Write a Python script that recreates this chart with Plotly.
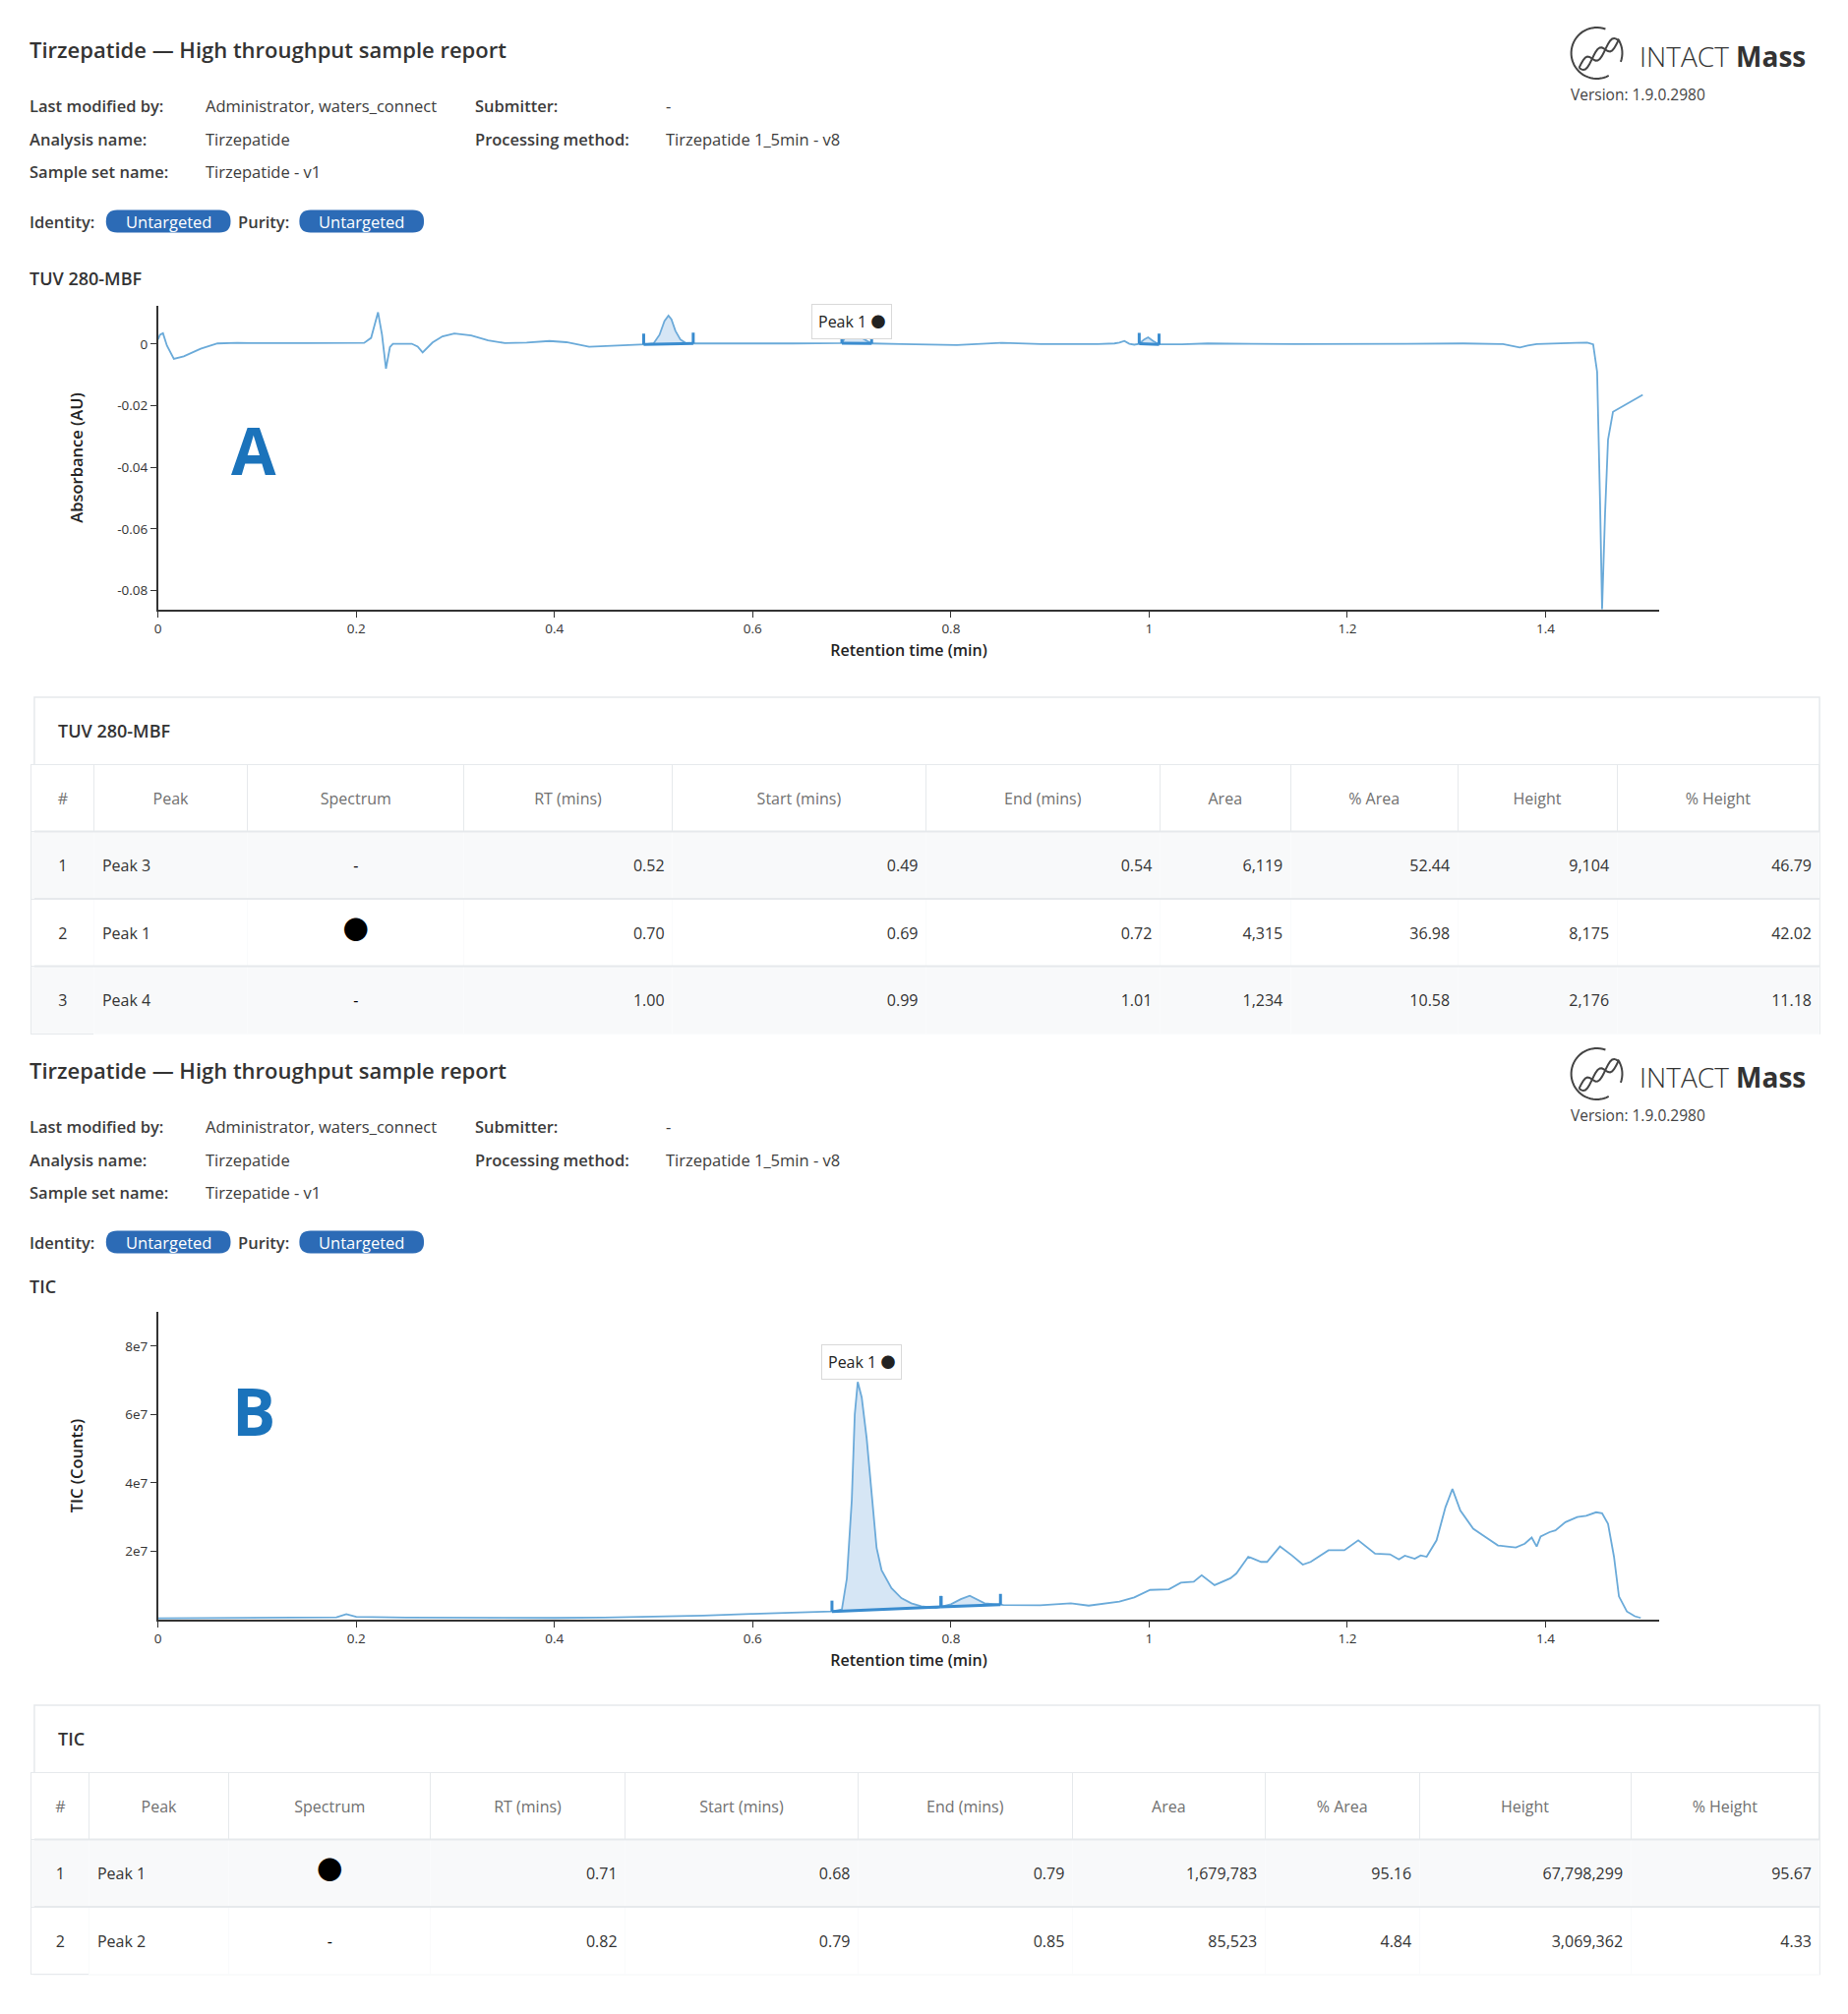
import numpy as np
import plotly.graph_objects as go

W, H = 1879, 2048
def px(x): return x / W
def py(y): return 1 - y / H

# ---------------- data ----------------
report_title = "Tirzepatide \u2014 High throughput sample report"
meta_labels_left = ["Last modified by:", "Analysis name:", "Sample set name:"]
meta_values_left = ["Administrator, waters_connect", "Tirzepatide", "Tirzepatide - v1"]
meta_labels_right = ["Submitter:", "Processing method:"]
meta_values_right = ["-", "Tirzepatide 1_5min - v8"]
version_text = "Version: 1.9.0.2980"

x_tickvals = [0, 0.2, 0.4, 0.6, 0.8, 1.0, 1.2, 1.4]
x_ticktext = ["0", "0.2", "0.4", "0.6", "0.8", "1", "1.2", "1.4"]
yA_tickvals = [0, -0.02, -0.04, -0.06, -0.08]
yA_ticktext = ["0", "-0.02", "-0.04", "-0.06", "-0.08"]
yB_tickvals = [2e7, 4e7, 6e7, 8e7]
yB_ticktext = ["2e7", "4e7", "6e7", "8e7"]

# TUV 280-MBF chromatogram (min, AU)
A_rt = [0.000, 0.002, 0.005, 0.009, 0.016, 0.026, 0.043, 0.060, 0.080, 0.100, 0.150, 0.200, 0.208, 0.215,
        0.219, 0.222, 0.226, 0.230, 0.234, 0.237, 0.256, 0.262, 0.267, 0.272, 0.277, 0.287, 0.299, 0.316,
        0.333, 0.350, 0.372, 0.395, 0.412, 0.435, 0.458, 0.492, 0.500, 0.506, 0.511, 0.515, 0.518, 0.522,
        0.527, 0.532, 0.540, 0.583, 0.640, 0.690, 0.695, 0.700, 0.705, 0.710, 0.720, 0.750, 0.806, 0.852,
        0.891, 0.948, 0.965, 0.970, 0.975, 0.980, 0.985, 0.990, 0.995, 0.999, 1.004, 1.010, 1.033, 1.059,
        1.147, 1.260, 1.317, 1.357, 1.366, 1.374, 1.382, 1.391, 1.431, 1.442, 1.448, 1.452, 1.455, 1.457,
        1.460, 1.463, 1.468, 1.482, 1.498]
A_abs = [0.0015, 0.0030, 0.0035, -0.0005, -0.0048, -0.0040, -0.0015, 0.0002, 0.0004, 0.0003, 0.0003, 0.0004,
         0.0004, 0.0020, 0.0070, 0.0103, 0.0030, -0.0080, -0.0010, 0.0001, 0.0001, -0.0008, -0.0027, -0.0012,
         0.0005, 0.0025, 0.0034, 0.0028, 0.0012, 0.0003, 0.0005, 0.0010, 0.0006, -0.0009, -0.0006, -0.0001,
         0.0002, 0.0030, 0.0075, 0.0092, 0.0080, 0.0043, 0.0015, 0.0004, 0.0002, 0.0003, 0.0002, 0.0003,
         0.0030, 0.0082, 0.0060, 0.0020, 0.0002, 0.0000, -0.0003, 0.0004, 0.0000, 0.0000, 0.0002, 0.0005,
         0.0010, 0.0001, -0.0002, 0.0001, 0.0015, 0.0022, 0.0010, -0.0001, -0.0001, 0.0002, 0.0000, 0.0001,
         0.0002, 0.0000, -0.0005, -0.0011, -0.0005, 0.0000, 0.0004, 0.0005, -0.0001, -0.0090, -0.0520,
         -0.0860, -0.0550, -0.0310, -0.0220, -0.0195, -0.0165]

# TIC chromatogram (min, counts)
B_rt = [0.000, 0.050, 0.100, 0.150, 0.180, 0.190, 0.200, 0.250, 0.300, 0.350, 0.400, 0.450, 0.500, 0.550,
        0.600, 0.650, 0.680, 0.690, 0.695, 0.700, 0.703, 0.706, 0.710, 0.715, 0.720, 0.725, 0.730, 0.740,
        0.750, 0.760, 0.770, 0.785, 0.800, 0.810, 0.819, 0.834, 0.853, 0.890, 0.921, 0.939, 0.970, 0.985,
        1.001, 1.020, 1.032, 1.045, 1.053, 1.066, 1.082, 1.088, 1.100, 1.113, 1.119, 1.132, 1.144, 1.155,
        1.163, 1.181, 1.197, 1.211, 1.228, 1.243, 1.252, 1.258, 1.268, 1.274, 1.280, 1.290, 1.299, 1.306,
        1.314, 1.327, 1.339, 1.352, 1.361, 1.370, 1.379, 1.386, 1.391, 1.395, 1.404, 1.410, 1.420, 1.432,
        1.441, 1.451, 1.457, 1.463, 1.469, 1.474, 1.482, 1.490, 1.496]
B_tic_m = [0.4, 0.5, 0.5, 0.6, 0.7, 1.6, 0.8, 0.6, 0.5, 0.5, 0.5, 0.6, 0.8, 1.2, 1.7, 2.2, 2.4, 3.0, 12.0,
           35.0, 60.0, 69.5, 65.0, 53.0, 36.0, 21.0, 14.5, 9.2, 6.3, 4.8, 3.9, 3.4, 4.5, 6.0, 7.0, 4.8, 4.3,
           4.2, 4.8, 4.1, 5.3, 6.5, 8.7, 8.9, 10.8, 11.1, 13.0, 10.1, 12.1, 13.5, 18.4, 16.9, 16.9, 21.4, 18.8,
           16.1, 16.9, 20.3, 20.3, 23.2, 19.3, 19.1, 17.6, 18.7, 17.8, 18.8, 18.4, 23.2, 32.9, 38.2, 31.9, 26.6,
           24.2, 21.7, 21.4, 21.1, 22.2, 24.0, 21.4, 24.3, 25.6, 26.1, 28.5, 30.0, 30.4, 31.4, 31.1, 28.0,
           18.4, 6.8, 2.4, 1.0, 0.5]
B_tic = [v * 1e6 for v in B_tic_m]

table_headers = ["#", "Peak", "Spectrum", "RT (mins)", "Start (mins)", "End (mins)", "Area", "% Area",
                 "Height", "% Height"]

tA_num = [1, 2, 3]
tA_peak = ["Peak 3", "Peak 1", "Peak 4"]
tA_spec = ["-", "\u25CF", "-"]
tA_rt = [0.52, 0.70, 1.00]
tA_start = [0.49, 0.69, 0.99]
tA_end = [0.54, 0.72, 1.01]
tA_area = [6119, 4315, 1234]
tA_parea = [52.44, 36.98, 10.58]
tA_height = [9104, 8175, 2176]
tA_pheight = [46.79, 42.02, 11.18]

tB_num = [1, 2]
tB_peak = ["Peak 1", "Peak 2"]
tB_spec = ["\u25CF", "-"]
tB_rt = [0.71, 0.82]
tB_start = [0.68, 0.79]
tB_end = [0.79, 0.85]
tB_area = [1679783, 85523]
tB_parea = [95.16, 4.84]
tB_height = [67798299, 3069362]
tB_pheight = [95.67, 4.33]

# ---------------- style ----------------
FONT = "Open Sans"
DOTFONT = "Open Sans, Noto Sans CJK JP"
TXT = "#333333"
LINE_C = "#6aaad9"
MARK_C = "#3a8ccf"
FILL_C = "rgba(120,172,222,0.30)"
BADGE_C = "#2c6bb6"
LETTER_C = "#1b73bb"
GRID_C = "#e6e9ec"
LX = -7  # annotation inner padding compensation
SPACER = "<span style=\"font-size:11px\">\u00a0</span><br>"

fig = go.Figure()
annotations = []
shapes = []

def ann(x, y, text, size=16, color=TXT, weight=400, xanchor="left", yanchor="middle", **kw):
    d = dict(x=px(x + (LX if xanchor == "left" else 0)), y=py(y), xref="paper", yref="paper", text=text,
             showarrow=False, xanchor=xanchor, yanchor=yanchor,
             font=dict(family=FONT, size=size, color=color, weight=weight))
    d.update(kw)
    annotations.append(d)

def rrect_path(x0, y0, x1, y1, r):
    pts = [("M", [(x0 + r, y0)]), ("L", [(x1 - r, y0)]), ("Q", [(x1, y0), (x1, y0 + r)]),
           ("L", [(x1, y1 - r)]), ("Q", [(x1, y1), (x1 - r, y1)]), ("L", [(x0 + r, y1)]),
           ("Q", [(x0, y1), (x0, y1 - r)]), ("L", [(x0, y0 + r)]), ("Q", [(x0, y0), (x0 + r, y0)])]
    s = ""
    for cmd, ps in pts:
        s += cmd + " " + " ".join(f"{px(a):.6f},{py(b):.6f}" for a, b in ps) + " "
    return s + "Z"

def header_block(off, section, section_y):
    ann(31, 50 + off, report_title, size=22, weight=600, color="#333")
    rows = [107, 141, 174]
    for i, (lab, val) in enumerate(zip(meta_labels_left, meta_values_left)):
        ann(31, rows[i] + off, lab, size=16.5, weight=600, color="#3c3c3c")
        ann(210, rows[i] + off, val, size=16.5, color="#3c3c3c")
    for i, (lab, val) in enumerate(zip(meta_labels_right, meta_values_right)):
        ann(485, rows[i] + off, lab, size=16.5, weight=600, color="#3c3c3c")
        ann(679, rows[i] + off, val, size=16.5, color="#3c3c3c")
    yb = 225 + off
    ann(31, yb, "Identity:", size=16.5, weight=600, color="#3c3c3c")
    ann(244, yb, "Purity:", size=16.5, weight=600, color="#3c3c3c")
    for (x0, x1) in [(104, 231), (301, 428)]:
        shapes.append(dict(type="path", xref="paper", yref="paper",
                           path=rrect_path(x0, yb - 11.5, x1, yb + 11.5, 11.5),
                           fillcolor=BADGE_C, line=dict(width=0)))
        ann((x0 + x1) / 2, yb, "Untargeted", size=16.5, color="white", weight=500, xanchor="center")
    # logo
    cx, cy, r = 1623, 54 + off, 26
    ang = np.radians(np.arange(70, 300, 6))
    p = "M " + " L ".join(f"{px(cx + r*np.cos(a)):.6f},{py(cy - r*np.sin(a)):.6f}" for a in ang)
    shapes.append(dict(type="path", xref="paper", yref="paper", path=p, line=dict(color="#444", width=2)))
    ang2 = np.radians(np.arange(-20, 40, 6))
    p2 = "M " + " L ".join(f"{px(cx + r*np.cos(a)):.6f},{py(cy - r*np.sin(a)):.6f}" for a in ang2)
    shapes.append(dict(type="path", xref="paper", yref="paper", path=p2, line=dict(color="#444", width=2)))
    t = np.linspace(0, 1, 20)
    for ph in (0, np.pi):
        xs = 1605 + 40 * t
        ys = (69 - 28 * t) + 6 * np.sin(2 * np.pi * 1.5 * t + ph) + off
        p3 = "M " + " L ".join(f"{px(a):.6f},{py(b):.6f}" for a, b in zip(xs, ys))
        shapes.append(dict(type="path", xref="paper", yref="paper", path=p3, line=dict(color="#444", width=2)))
    ann(1838, 57 + off, "INTACT <b>Mass</b>", size=28, weight=300, color="#333", xanchor="right")
    ann(1601, 96 + off, version_text, size=15.5, color="#444")
    ann(31, section_y, section, size=18, weight=600, color="#333")

header_block(0, "TUV 280-MBF", 283)
header_block(1038, "TIC", 1308)

# ---------------- chromatograms ----------------
DOT_SPAN = "<span style=\"font-family:Noto Sans CJK JP;font-size:15px\">\u25CF</span>"

def add_chrom(xa, ya, rt, vals, starts, ends, spec, rts, names, dom_y, yr, tick_px=11, label_anchor="middle"):
    fig.add_trace(go.Scatter(x=rt, y=vals, mode="lines", line=dict(color=LINE_C, width=1.8),
                             xaxis=xa, yaxis=ya, hoverinfo="skip"))
    plot_h = (dom_y[1] - dom_y[0]) * H
    th = tick_px * (yr[1] - yr[0]) / plot_h
    mx, my = [], []
    for s, e in zip(starts, ends):
        ys_ = float(np.interp(s, rt, vals)); ye_ = float(np.interp(e, rt, vals))
        inside = [(x, v) for x, v in zip(rt, vals) if s < x < e]
        fx = [s] + [a for a, _ in inside] + [e, e, s]
        fy = [ys_] + [b for _, b in inside] + [ye_, ye_, ys_]
        fig.add_trace(go.Scatter(x=fx, y=fy, mode="lines", fill="toself", fillcolor=FILL_C,
                                 line=dict(width=0), xaxis=xa, yaxis=ya, hoverinfo="skip"))
        mx += [s, s, None, e, e, None, s, e, None]
        my += [ys_ + th, ys_, None, ye_ + th, ye_, None, ys_, ye_, None]
    fig.add_trace(go.Scatter(x=mx, y=my, mode="lines", line=dict(color=MARK_C, width=3),
                             xaxis=xa, yaxis=ya, hoverinfo="skip"))
    for sp, r0, s, e, nm in zip(spec, rts, starts, ends, names):
        if sp != "-":
            apex = max(v for x, v in zip(rt, vals) if s <= x <= e)
            annotations.append(dict(x=r0, y=apex, xref=xa, yref=ya, text=nm + " " + DOT_SPAN, showarrow=False,
                                    xanchor="center", yanchor=label_anchor,
                                    yshift=2 if label_anchor == "bottom" else -3,
                                    bgcolor="white", bordercolor="#d9d9d9", borderwidth=1, borderpad=6,
                                    font=dict(family=FONT, size=16, color="#222")))

domA_y = [py(620), py(311)]
domB_y = [py(1647), py(1334)]
dom_x = [px(157), px(1687)]
yA_range = [-0.0862, 0.0124]
yB_range = [0, 9.0e7]

add_chrom("x", "y", A_rt, A_abs, tA_start, tA_end, tA_spec, tA_rt, tA_peak, domA_y, yA_range,
          label_anchor="middle")
add_chrom("x2", "y2", B_rt, B_tic, tB_start, tB_end, tB_spec, tB_rt, tB_peak, domB_y, yB_range,
          label_anchor="bottom")

ax_common = dict(showline=True, linecolor="#333", linewidth=1.5, ticks="outside", ticklen=6, tickcolor="#333",
                 tickwidth=1.2, showgrid=False, zeroline=False, tickfont=dict(family=FONT, size=13.5, color="#333"))
xtitle = dict(text="Retention time (min)", standoff=9, font=dict(family=FONT, size=16, color="#222", weight=600))
xcommon = dict(ax_common, domain=dom_x, range=[0, 1.515], tickvals=x_tickvals, ticktext=x_ticktext, title=xtitle)
fig.update_layout(
    xaxis=dict(xcommon, anchor="y"),
    yaxis=dict(ax_common, domain=domA_y, range=yA_range, tickvals=yA_tickvals, ticktext=yA_ticktext, anchor="x",
               title=dict(text="Absorbance (AU)", standoff=30,
                          font=dict(family=FONT, size=16.5, color="#222", weight=600))),
    xaxis2=dict(xcommon, anchor="y2"),
    yaxis2=dict(ax_common, domain=domB_y, range=yB_range, tickvals=yB_tickvals, ticktext=yB_ticktext, anchor="x2",
                title=dict(text="TIC (Counts)", standoff=38,
                           font=dict(family=FONT, size=16.5, color="#222", weight=600))),
)

ann(255, 457, "<b>A</b>", size=66, color=LETTER_C, xanchor="center")
ann(255, 1434, "<b>B</b>", size=66, color=LETTER_C, xanchor="center")

# ---------------- tables ----------------
def cell_text(v, f):
    if f == "dot":
        s = "<span style=\"font-size:26px\">" + v + "</span>" if v != "-" else v
    else:
        s = format(v, f) if f else str(v)
    return SPACER + s

def add_table(top, title, cols, widths, nrows):
    row_h = 68.5
    hdr_top = top + 68
    bottom = hdr_top + row_h * (nrows + 1)
    shapes.append(dict(type="rect", xref="paper", yref="paper", x0=px(31), x1=px(1850), y0=py(bottom), y1=py(top),
                       line=dict(color=GRID_C, width=1.5), fillcolor="white", layer="below"))
    ann(60, top + 34, title, size=18, weight=600, color="#333")
    fills = ["#f8f9fa" if i % 2 == 0 else "#ffffff" for i in range(nrows)]
    aligns = ["center", "left", "center", "right", "right", "right", "right", "right", "right", "right"]
    fmts = ["", "", "dot", ".2f", ".2f", ".2f", ",d", ".2f", ",d", ".2f"]
    fams = [FONT, FONT, DOTFONT] + [FONT] * 7
    colors = ["#333", "#333", "#000"] + ["#333"] * 7
    line_cols = [GRID_C] + ["#fafbfc"] * 9
    cell_vals = [[cell_text(v, f) for v in c] for c, f in zip(cols, fmts)]
    fig.add_trace(go.Table(
        domain=dict(x=[px(28), px(1850)], y=[py(bottom + 2), py(hdr_top)]),
        columnwidth=widths,
        header=dict(values=[SPACER + h for h in table_headers], fill_color="white", align="center", height=row_h,
                    line=dict(color=GRID_C, width=1),
                    font=dict(family=FONT, size=16, color="#707070")),
        cells=dict(values=cell_vals, fill_color=[fills] * 10, align=aligns, height=row_h,
                   line=dict(color=line_cols, width=1),
                   font=dict(family=fams, size=16, color=colors)),
    ))
    for k in range(1, nrows + 1):
        yk = hdr_top + row_h * k
        shapes.append(dict(type="line", xref="paper", yref="paper", x0=px(31), x1=px(1850), y0=py(yk), y1=py(yk),
                           line=dict(color=GRID_C, width=2)))

add_table(709, "TUV 280-MBF",
          [tA_num, tA_peak, tA_spec, tA_rt, tA_start, tA_end, tA_area, tA_parea, tA_height, tA_pheight],
          [64, 156, 220, 212, 258, 238, 133, 170, 162, 206], 3)
add_table(1734, "TIC",
          [tB_num, tB_peak, tB_spec, tB_rt, tB_start, tB_end, tB_area, tB_parea, tB_height, tB_pheight],
          [59, 142, 205, 198, 237, 218, 196, 157, 215, 192], 2)

fig.update_layout(width=W, height=H, margin=dict(l=0, r=0, t=0, b=0), paper_bgcolor="white",
                  plot_bgcolor="white", showlegend=False, annotations=annotations, shapes=shapes,
                  font=dict(family=FONT, color=TXT))
fig.write_html("out.html")
